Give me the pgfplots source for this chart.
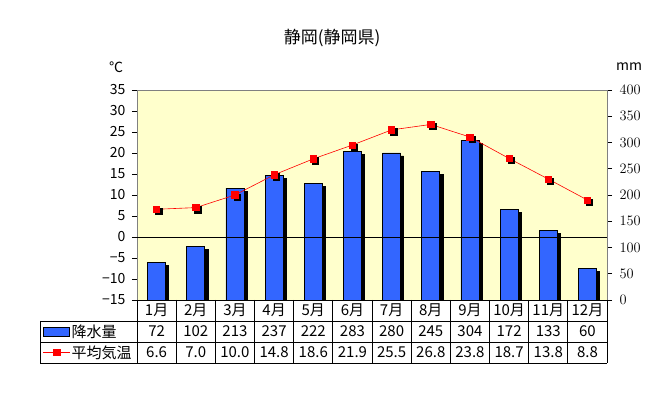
\documentclass[border=0pt]{standalone}
\usepackage{pgfplots}
\usepackage{pgfplotstable}
\pgfplotsset{compat=1.18}
\usepackage{fontspec}
\setmainfont{Noto Sans CJK JP}
\definecolor{bgy}{RGB}{255,255,204}
\definecolor{barblue}{RGB}{51,102,255}
\definecolor{lred}{RGB}{255,0,0}
\definecolor{bordergray}{RGB}{128,128,128}
\newcommand\tf{\fontsize{14}{16}\selectfont}
\newcommand\tbf{\fontsize{15}{17}\selectfont}

\pgfplotstableread{
m prec temp
1 72 6.6
2 102 7.0
3 213 10.0
4 237 14.8
5 222 18.6
6 283 21.9
7 280 25.5
8 245 26.8
9 304 23.8
10 172 18.7
11 133 13.8
12 60 8.8
}\climate

\begin{document}
\begin{tikzpicture}[x=1pt,y=1pt]
\useasboundingbox (0,0) rectangle (659,399);
% precipitation axis (right)
\begin{axis}[
  at={(137pt,99pt)}, anchor=south west,
  scale only axis, width=470pt, height=210pt,
  xmin=0.5, xmax=12.5, ymin=0, ymax=400,
  xtick=\empty,
  ytick={0,50,...,400},
  ytick pos=right,
  tick align=outside,
  major tick length=5pt,
  tick style={black, line width=0.6pt},
  yticklabel style={font=\tf, anchor=west, xshift=4pt},
  axis line style={bordergray, line width=0.8pt},
  axis background/.style={fill=bgy},
]
\addplot[ybar, bar shift=0pt, bar width=18pt, fill=black, draw=black, xshift=3pt, yshift=-3pt] table[x=m,y=prec]{\climate};
\addplot[ybar, bar shift=0pt, bar width=18pt, fill=barblue, draw=black, line width=0.8pt] table[x=m,y=prec]{\climate};
\end{axis}
% temperature axis (left)
\begin{axis}[
  at={(137pt,99pt)}, anchor=south west,
  scale only axis, width=470pt, height=210pt,
  xmin=0.5, xmax=12.5, ymin=-15, ymax=35,
  xtick=\empty,
  ytick={-15,-10,...,35},
  yticklabels={−15,−10,−5,0,5,10,15,20,25,30,35},
  ytick pos=left,
  tick align=outside,
  major tick length=5pt,
  tick style={black, line width=0.6pt},
  yticklabel style={font=\tf, anchor=east, xshift=-3pt},
  axis line style={bordergray, line width=0.8pt},
  extra y ticks={0},
  extra y tick labels={},
  extra y tick style={grid=major, major grid style={black, line width=0.8pt}, major tick length=0pt},
  clip=false,
  legend style={at={(axis description cs:-0.2,-0.1)}, anchor=north west, draw=none, fill=none, inner sep=0pt, outer sep=0pt, row sep=0pt, column sep=0pt,
    nodes={minimum height=21pt, inner sep=1pt, font=\tbf}},
  legend cell align=left,
]
\addplot[only marks, mark=square*, mark size=3.2pt, black, xshift=2pt, yshift=-2pt, forget plot] table[x=m,y=temp]{\climate};
\addlegendimage{legend image code/.code={\draw[fill=barblue,draw=black,line width=0.8pt] (0pt,-4.5pt) rectangle (26pt,4.5pt);}}
\addlegendentry{降水量}
\addplot[lred, line width=0.6pt, mark=square*, mark size=3.2pt, mark options={fill=lred, draw=lred},
  legend image code/.code={\draw[lred, line width=0.6pt] (0pt,0pt)--(27pt,0pt); \draw[lred, fill=lred] plot[mark=square*, mark size=3.2pt] coordinates {(13.5pt,0pt)};}] table[x=m,y=temp]{\climate};
\addlegendentry{平均気温}
\end{axis}
% title and units
\node[font=\fontsize{17}{19}\selectfont] at (332,361) {静岡(静岡県)};
\node[font=\tf] at (116,332) {℃};
\node[font=\tf] at (629,332) {mm};
% data table
\begin{scope}[line width=0.8pt]
\draw (137,99)--(607,99);
\draw (40,78)--(607,78);
\draw (40,57)--(607,57);
\draw (40,36)--(607,36);
\draw (40,78)--(40,36);
\foreach \k in {0,...,12} {\draw (137+\k*39.1667,99)--(137+\k*39.1667,36);}
\end{scope}
\foreach \i in {1,...,12} {\node[font=\tbf] at (137+\i*39.1667-19.58,88.5) {{\i}月};}
\foreach \v [count=\i] in {72,102,213,237,222,283,280,245,304,172,133,60} {\node[font=\tbf] at (137+\i*39.1667-19.58,67.5) {\v};}
\foreach \v [count=\i] in {6.6,7.0,10.0,14.8,18.6,21.9,25.5,26.8,23.8,18.7,13.8,8.8} {\node[font=\tbf] at (137+\i*39.1667-19.58,46.5) {\v};}
\end{tikzpicture}
\end{document}
